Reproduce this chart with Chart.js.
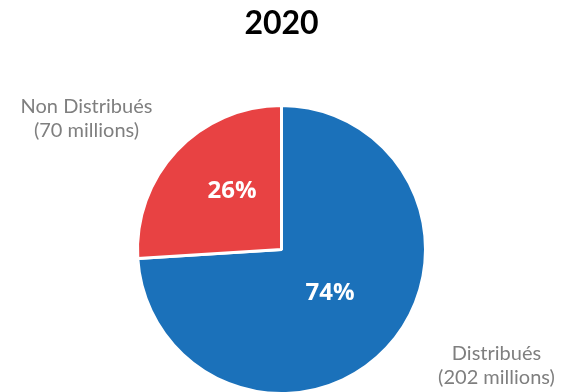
<!DOCTYPE html>
<html lang="fr">
<head>
<meta charset="utf-8">
<title>2020</title>
<script src="https://cdn.jsdelivr.net/npm/chart.js@4/dist/chart.umd.min.js"></script>
<style>
    html, body { margin: 0; padding: 0; background: #fff; overflow: hidden; }
    .chart-box { width: 564px; height: 400px; position: relative; }
</style>
</head>
<body>
<div class="chart-box"><canvas id="repartitionChart"></canvas></div>
<script>
// Répartition 2020
const categories = ['Distribués', 'Non Distribués'];
const shares = [74, 26];          // en %
const millions = [202, 70];       // en millions
const sliceColors = ['#1B71BA', '#E84243'];

// Emplacement des étiquettes (par rapport au centre du camembert)
const outerLabelPos = [{ dx: 215, dy: 110 }, { dx: -195, dy: -137 }];
const innerLabelNudge = [{ dx: -4, dy: -6 }, { dx: 3, dy: -9 }];

// Plugin simple pour écrire les pourcentages et les libellés
const sliceLabels = {
    id: 'sliceLabels',
    afterDatasetsDraw(chart) {
        const ctx = chart.ctx;
        const arcs = chart.getDatasetMeta(0).data;
        ctx.save();
        arcs.forEach(function(arc, i) {
            const p = arc.getProps(['x', 'y', 'startAngle', 'endAngle', 'outerRadius'], true);
            const mid = (p.startAngle + p.endAngle) / 2;
            const r = p.outerRadius * 0.5;

            // pourcentage dans la part
            ctx.fillStyle = '#ffffff';
            ctx.font = 'bold 24px "Open Sans"';
            ctx.textAlign = 'center';
            ctx.textBaseline = 'middle';
            ctx.fillText(shares[i] + '%',
                p.x + Math.cos(mid) * r + innerLabelNudge[i].dx,
                p.y + Math.sin(mid) * r + innerLabelNudge[i].dy);

            // libellé à l'extérieur
            const lx = p.x + outerLabelPos[i].dx;
            const ly = p.y + outerLabelPos[i].dy;
            ctx.fillStyle = '#7F7F7F';
            ctx.font = '20px Lato';
            ctx.textBaseline = 'alphabetic';
            ctx.fillText(categories[i], lx, ly);
            ctx.fillText('(' + millions[i] + ' millions)', lx, ly + 24);
        });
        ctx.restore();
    }
};

document.addEventListener('DOMContentLoaded', function() {
    const ctx = document.getElementById('repartitionChart');
    new Chart(ctx, {
        type: 'pie',
        data: {
            labels: categories,
            datasets: [{
                data: shares,
                backgroundColor: sliceColors,
                borderColor: '#ffffff',
                borderWidth: 3
            }]
        },
        options: {
            responsive: true,
            maintainAspectRatio: false,
            animation: false,
            events: [],
            layout: { padding: { left: 136, right: 137, top: 0, bottom: 5 } },
            plugins: {
                legend: { display: false },
                tooltip: { enabled: false },
                title: {
                    display: true,
                    text: '2020',
                    color: '#000000',
                    font: { family: 'Lato', size: 32, weight: 'bold' },
                    padding: { top: 4, bottom: 61.6 }
                }
            }
        },
        plugins: [sliceLabels]
    });
});
</script>
</body>
</html>
